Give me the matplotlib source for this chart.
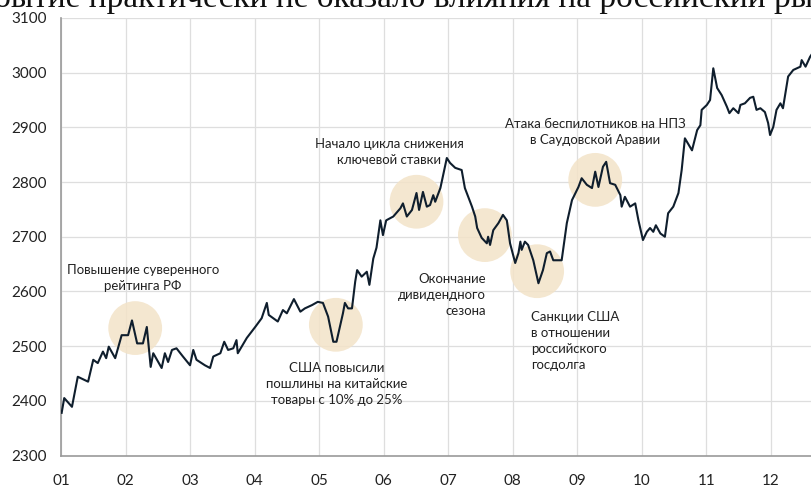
import matplotlib
matplotlib.use("Agg")
import matplotlib.pyplot as plt

# позиция по оси X в месяцах (0 = январь), значение индекса
months = [0.01, 0.05, 0.17, 0.26, 0.42, 0.50, 0.57, 0.65, 0.70, 0.74, 0.84, 0.94,
          1.04, 1.10, 1.18, 1.27, 1.33, 1.39, 1.43, 1.56, 1.61, 1.66, 1.72, 1.79, 1.89,
          2.00, 2.05, 2.10, 2.23, 2.31, 2.36, 2.47, 2.53, 2.59, 2.67, 2.72, 2.74, 2.88,
          3.01, 3.11, 3.19, 3.22, 3.36, 3.44, 3.50, 3.61, 3.71, 3.78, 3.89, 3.98,
          4.06, 4.14, 4.22, 4.27, 4.33, 4.37, 4.40, 4.45, 4.51, 4.56, 4.59, 4.66, 4.74,
          4.78, 4.84, 4.89, 4.95, 4.99,
          5.04, 5.15, 5.26, 5.30, 5.36, 5.44, 5.51, 5.55, 5.61, 5.67, 5.72, 5.77, 5.80,
          5.88, 5.98, 6.03, 6.11, 6.21, 6.26, 6.37, 6.42, 6.45, 6.52, 6.60, 6.62, 6.65,
          6.70, 6.78, 6.85, 6.91, 6.96, 7.04, 7.09, 7.12, 7.14, 7.19, 7.24, 7.32, 7.40,
          7.47, 7.53, 7.58, 7.63, 7.76, 7.84, 7.92, 8.02, 8.07, 8.15, 8.23, 8.28, 8.33,
          8.40, 8.45, 8.51, 8.59, 8.67, 8.69, 8.74, 8.82, 8.90, 8.95, 9.02, 9.08, 9.13,
          9.18, 9.22, 9.29, 9.36, 9.41, 9.49, 9.57, 9.62, 9.67, 9.78, 9.86, 9.91, 9.93,
          10.01, 10.06, 10.11, 10.17, 10.24, 10.32, 10.36, 10.42, 10.50, 10.53, 10.60,
          10.68, 10.73, 10.78, 10.84, 10.91, 10.96, 10.99, 11.04, 11.09, 11.15, 11.19,
          11.27, 11.35, 11.46, 11.48, 11.54, 11.61, 11.65]
index = [2378, 2405, 2389, 2444, 2435, 2475, 2469, 2490, 2478, 2499, 2478, 2520,
         2520, 2547, 2505, 2505, 2535, 2462, 2487, 2460, 2487, 2471, 2493, 2496, 2481,
         2465, 2493, 2475, 2465, 2460, 2481, 2487, 2508, 2493, 2496, 2511, 2487, 2515,
         2535, 2551, 2579, 2557, 2545, 2566, 2560, 2586, 2563, 2569, 2575, 2581,
         2579, 2554, 2508, 2508, 2539, 2560, 2579, 2569, 2569, 2618, 2639, 2627, 2636,
         2612, 2660, 2680, 2730, 2703,
         2730, 2737, 2752, 2761, 2737, 2749, 2780, 2749, 2782, 2755, 2758, 2776, 2764,
         2789, 2844, 2835, 2826, 2822, 2789, 2755, 2737, 2716, 2698, 2688, 2700, 2685,
         2712, 2725, 2740, 2730, 2688, 2652, 2670, 2691, 2676, 2691, 2685, 2657, 2615,
         2639, 2670, 2673, 2657, 2657, 2725, 2767, 2791, 2807, 2795, 2789, 2819, 2791,
         2828, 2837, 2798, 2795, 2776, 2755, 2773, 2755, 2761, 2730, 2694, 2709, 2716,
         2709, 2721, 2706, 2700, 2743, 2755, 2780, 2822, 2880, 2858, 2895, 2904, 2932,
         2941, 2950, 3008, 2972, 2959, 2938, 2926, 2935, 2926, 2941, 2944,
         2954, 2956, 2932, 2935, 2928, 2908, 2886, 2901, 2932, 2944, 2935,
         2993, 3005, 3011, 3023, 3011, 3029, 3036]

month_labels = ["01", "02", "03", "04", "05", "06", "07", "08", "09", "10", "11", "12"]
y_ticks = [2300, 2400, 2500, 2600, 2700, 2800, 2900, 3000, 3100]

# события: центр круга
event_x = [1.15, 4.26, 5.51, 6.57, 7.38, 8.28]
event_y = [2533, 2539, 2764, 2703, 2637, 2804]

plt.rcParams['font.family'] = ['Lato', 'DejaVu Sans']

fig = plt.figure(figsize=(8.12, 4.9), dpi=100)
ax = fig.add_axes([61 / 812, 34.5 / 490, 751 / 812, 437.5 / 490])

ax.scatter(event_x, event_y, s=1500, color='#f3e3c8', alpha=0.85, edgecolors='none', zorder=2)
ax.plot(months, index, color='#0f1e2d', lw=1.5, zorder=3)

ax.set_xlim(0, 11.64)
ax.set_ylim(2300, 3100)
ax.set_xticks(range(12))
ax.set_xticklabels(month_labels)
ax.set_yticks(y_ticks)
ax.tick_params(axis='both', length=0, labelsize=11, colors='#222222')
ax.tick_params(axis='x', pad=13)
ax.tick_params(axis='y', pad=10)
ax.grid(True, color='#dedede', lw=0.9)
ax.set_axisbelow(True)
for s in ['top', 'right']:
    ax.spines[s].set_visible(False)
for s in ['left', 'bottom']:
    ax.spines[s].set_color('#9a9a9a')
    ax.spines[s].set_linewidth(1.2)

# подписи событий
txt = dict(fontsize=9.5, color='#222222', linespacing=1.4, zorder=4)
ax.text(1.27, 2624, "Повышение суверенного\nрейтинга РФ", ha='center', va='center', **txt)
ax.text(4.27, 2430, "США повысили\nпошлины на китайские\nтовары с 10% до 25%", ha='center', va='center', **txt)
ax.text(5.09, 2855, "Начало цикла снижения\nключевой ставки", ha='center', va='center', **txt)
ax.text(6.59, 2593, "Окончание\nдивидендного\nсезона", ha='right', va='center', **txt)
ax.text(7.28, 2510, "Санкции США\nв отношении\nроссийского\nгосдолга", ha='left', va='center', **txt)
ax.text(8.28, 2891, "Атака беспилотников на НПЗ\nв Саудовской Аравии", ha='center', va='center', **txt)

fig.text(-0.055, 1 - 7 / 490, "Событие практически не оказало влияния на российский рынок",
         family=['Liberation Serif', 'DejaVu Serif'], fontsize=24, color='#111111',
         ha='left', va='baseline')

fig.savefig("out.png", dpi=100)
